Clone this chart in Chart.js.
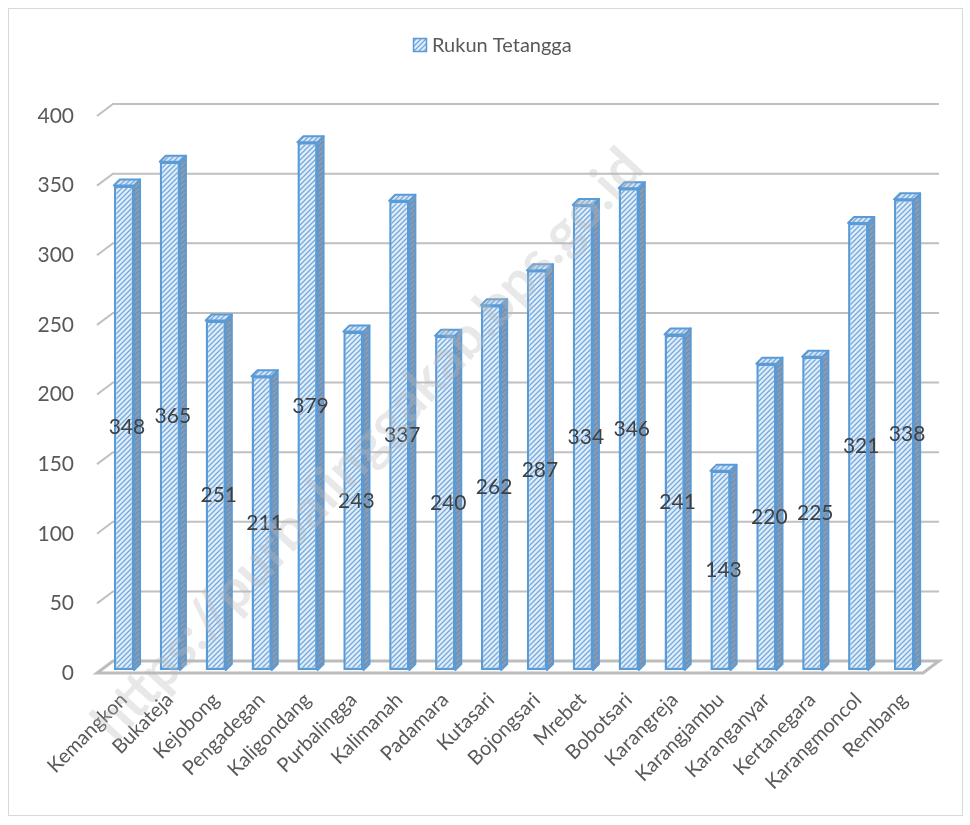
<!DOCTYPE html>
<html>
<head>
<meta charset="utf-8">
<script src="https://cdn.jsdelivr.net/npm/chart.js@4.4.1/dist/chart.umd.min.js"></script>
<style>
  body { margin: 0; background: #fff; }
  #wrap { position: relative; width: 970px; height: 825px; }
  #frame { position: absolute; left: 8px; top: 8px; width: 953px; height: 806px; border: 1px solid #d9d9d9; }
  canvas { position: absolute; left: 0; top: 0; }
</style>
</head>
<body>
<div id="wrap">
  <div id="frame"></div>
  <canvas id="grafico" width="970" height="825"></canvas>
</div>
<script>
// Data
var kecamatan = ['Kemangkon', 'Bukateja', 'Kejobong', 'Pengadegan', 'Kaligondang', 'Purbalingga',
  'Kalimanah', 'Padamara', 'Kutasari', 'Bojongsari', 'Mrebet', 'Bobotsari', 'Karangreja',
  'Karangjambu', 'Karanganyar', 'Kertanegara', 'Karangmoncol', 'Rembang'];
var rukunTetangga = [348, 365, 251, 211, 379, 243, 337, 240, 262, 287, 334, 346, 241, 143, 220, 225, 321, 338];
var tickNilai = [0, 50, 100, 150, 200, 250, 300, 350, 400];
var judulSeri = 'Rukun Tetangga';

var ctx = document.getElementById('grafico').getContext('2d');
var FONT = 'Lato, "Open Sans", sans-serif';

// pola arsir diagonal
function buatPola(bg, garis) {
  var c = document.createElement('canvas');
  c.width = 5; c.height = 5;
  var g = c.getContext('2d');
  g.fillStyle = bg;
  g.fillRect(0, 0, 5, 5);
  g.strokeStyle = garis;
  g.lineWidth = 1.3;
  g.beginPath();
  g.moveTo(0, 5); g.lineTo(5, 0);
  g.moveTo(-2.5, 2.5); g.lineTo(2.5, -2.5);
  g.moveTo(2.5, 7.5); g.lineTo(7.5, 2.5);
  g.stroke();
  return ctx.createPattern(c, 'repeat');
}
var polaDepan = buatPola('#e1edf9', '#74a9de');
var polaSisi = buatPola('#8f9cab', '#6a8fbb');
var polaAtas = buatPola('#d5e5f5', '#7aaade');

var DX = 16, DY = -12;   // kedalaman dinding
var D = 6;               // kedalaman batang

var tigaD = {
  id: 'tigaD',
  beforeDatasetsDraw: function (chart) {
    var c = chart.ctx, y = chart.scales.y, a = chart.chartArea;
    var kiri = a.left - 4, kanan = a.right - 4;
    c.save();
    c.strokeStyle = '#c0c0c0';
    c.lineWidth = 2;
    tickNilai.forEach(function (v) {
      if (v === 0) return;
      var yf = y.getPixelForValue(v) + 3;
      c.beginPath();
      c.moveTo(kiri, yf);
      c.lineTo(kiri + DX, yf + DY);
      c.lineTo(kanan + DX, yf + DY);
      c.stroke();
    });
    var y0 = y.getPixelForValue(0) + 3;
    c.beginPath();
    c.moveTo(kiri, y0);
    c.lineTo(kanan, y0);
    c.lineTo(kanan + DX, y0 + DY);
    c.lineTo(kiri + DX, y0 + DY);
    c.closePath();
    c.fillStyle = '#fff';
    c.fill();
    c.lineWidth = 3;
    c.strokeStyle = '#bcbcbc';
    c.stroke();
    c.restore();
  },
  afterDatasetsDraw: function (chart) {
    var c = chart.ctx;
    var meta = chart.getDatasetMeta(0);
    c.save();
    c.lineWidth = 2;
    c.strokeStyle = '#5b9bd5';
    c.lineJoin = 'round';
    meta.data.forEach(function (bar, i) {
      var p = bar.getProps(['x', 'y', 'base', 'width'], true);
      var l = p.x - p.width / 2, r = p.x + p.width / 2;
      // sisi kanan
      c.beginPath();
      c.moveTo(r, p.y);
      c.lineTo(r + D, p.y - D);
      c.lineTo(r + D, p.base - D);
      c.lineTo(r, p.base);
      c.closePath();
      c.fillStyle = polaSisi;
      c.fill();
      c.stroke();
      // atas
      c.beginPath();
      c.moveTo(l, p.y);
      c.lineTo(l + D, p.y - D);
      c.lineTo(r + D, p.y - D);
      c.lineTo(r, p.y);
      c.closePath();
      c.fillStyle = polaAtas;
      c.fill();
      c.stroke();
    });
    // label data
    c.font = '21px ' + FONT;
    c.fillStyle = '#404040';
    c.textAlign = 'center';
    c.textBaseline = 'middle';
    meta.data.forEach(function (bar, i) {
      var p = bar.getProps(['x', 'y', 'base'], true);
      c.fillText(String(rukunTetangga[i]), p.x + 3, (p.y + p.base) / 2);
    });
    c.restore();
  },
  afterDraw: function (chart) {
    var c = chart.ctx;
    c.save();
    // legenda
    c.fillStyle = polaDepan;
    c.fillRect(413, 38, 14, 14);
    c.strokeStyle = '#5b9bd5';
    c.lineWidth = 1.5;
    c.strokeRect(413.5, 38.5, 13, 13);
    c.font = '20px ' + FONT;
    c.fillStyle = '#595959';
    c.textAlign = 'left';
    c.textBaseline = 'middle';
    c.fillText(judulSeri, 432, 46);
    // watermark
    c.translate(368, 445);
    c.rotate(-47.3 * Math.PI / 180);
    c.font = 'bold 55px ' + FONT;
    c.fillStyle = 'rgba(185,185,185,0.33)';
    c.textAlign = 'center';
    c.textBaseline = 'middle';
    c.fillText('https://purbalinggakab.bps.go.id', 0, 0);
    c.restore();
  }
};

var data = {
  labels: kecamatan,
  datasets: [{
    label: judulSeri,
    data: rukunTetangga,
    backgroundColor: polaDepan,
    borderColor: '#5b9bd5',
    borderWidth: 2.5,
    borderSkipped: false,
    categoryPercentage: 1,
    barPercentage: 0.44
  }]
};

var options = {
  responsive: false,
  animation: false,
  layout: { padding: { top: 113, right: 43, left: 0, bottom: 0 } },
  scales: {
    x: {
      grid: { display: false },
      border: { display: false },
      ticks: {
        autoSkip: false,
        maxRotation: 45,
        minRotation: 45,
        padding: 10,
        color: '#595959',
        font: { family: FONT, size: 20 }
      },
      afterFit: function (s) { s.height = 155; }
    },
    y: {
      min: 0,
      max: 400,
      grid: { display: false },
      border: { display: false },
      ticks: {
        stepSize: 50,
        padding: 19,
        labelOffset: 3,
        color: '#595959',
        font: { family: FONT, size: 21 }
      },
      afterFit: function (s) { s.width = 101; }
    }
  },
  plugins: {
    legend: { display: false },
    tooltip: { enabled: false }
  }
};

var myBarChart = new Chart(ctx, {
  type: 'bar',
  data: data,
  options: options,
  plugins: [tigaD]
});
</script>
</body>
</html>
